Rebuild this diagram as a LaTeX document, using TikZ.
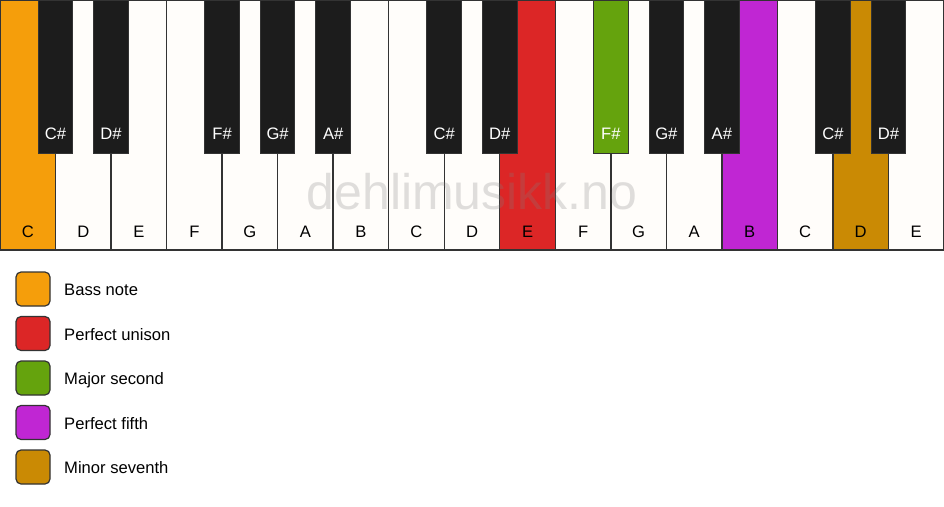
\documentclass[tikz,border=0pt]{standalone}
\usepackage{fontspec}
\setmainfont{Liberation Sans}
\definecolor{keywhite}{HTML}{FFFDFA}
\definecolor{keyblack}{HTML}{1C1C1C}
\definecolor{edge}{HTML}{333333}
\definecolor{bass}{HTML}{F59E0B}
\definecolor{unison}{HTML}{DC2626}
\definecolor{second}{HTML}{65A30D}
\definecolor{fifth}{HTML}{C026D3}
\definecolor{seventh}{HTML}{CA8A04}
\begin{document}
\begin{tikzpicture}[x=1pt,y=-1pt,
  wkey/.style={draw=edge,line width=1.4pt,minimum width=55.53pt,minimum height=250pt,inner sep=0pt,fill=keywhite},
  bkey/.style={draw=edge,line width=1pt,minimum width=34.5pt,minimum height=153pt,inner sep=0pt,fill=keyblack},
  wlabel/.style={anchor=base,inner sep=0pt,font=\fontsize{16.6}{19}\selectfont,text=black},
  blabel/.style={anchor=base,inner sep=0pt,font=\fontsize{16.6}{19}\selectfont,text=white},
  legbox/.style={draw=edge,line width=1.2pt,rounded corners=5pt,minimum width=34pt,minimum height=34pt,inner sep=0pt},
  legtext/.style={anchor=base west,inner sep=0pt,font=\fontsize{16.6}{19}\selectfont,text=black},
  watermark/.style={inner sep=0pt,font=\fontsize{50}{60}\selectfont,text=gray,text opacity=0.25}
]
\useasboundingbox (0,0) rectangle (944,506);
\fill[white] (0,0) rectangle (944,506);
% white keys
\foreach \n/\c [count=\i from 0] in {C/bass,D/keywhite,E/keywhite,F/keywhite,G/keywhite,A/keywhite,B/keywhite,C/keywhite,D/keywhite,E/unison,F/keywhite,G/keywhite,A/keywhite,B/fifth,C/keywhite,D/seventh,E/keywhite}{
  \node[wkey,fill=\c] (w\i) at ({(\i+0.5)*55.53},125) {};
  \node[wlabel] (wl\i) at ({(\i+0.5)*55.53},237) {\n};
}
% watermark
\node[watermark] (wm) at (472,192) {dehlimusikk.no};
% black keys
\foreach \b/\n/\c in {1/C\#/keyblack,2/D\#/keyblack,4/F\#/keyblack,5/G\#/keyblack,6/A\#/keyblack,8/C\#/keyblack,9/D\#/keyblack,11/F\#/second,12/G\#/keyblack,13/A\#/keyblack,15/C\#/keyblack,16/D\#/keyblack}{
  \node[bkey,fill=\c] (b\b) at ({\b*55.53},76.5) {};
  \node[blabel] (bl\b) at ({\b*55.53},139) {\n};
}
% legend
\foreach \c/\t [count=\k from 0] in {bass/Bass note,unison/Perfect unison,second/Major second,fifth/Perfect fifth,seventh/Minor seventh}{
  \node[legbox,fill=\c] (lg\k) at (33,{289+44.5*\k}) {};
  \node[legtext] (lt\k) at (64,{295.5+44.5*\k}) {\t};
}
\end{tikzpicture}
\end{document}
